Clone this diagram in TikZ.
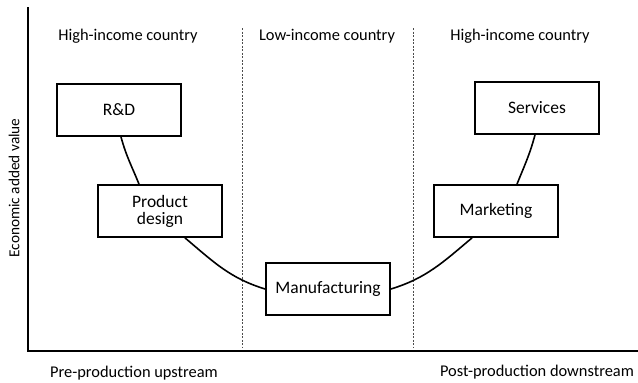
\documentclass[tikz,border=0pt]{standalone}
\usepackage{fontspec}
\setmainfont{Carlito}
\begin{document}
\begin{tikzpicture}[x=1pt,y=-1pt,
  stagebox/.style={draw,line width=1.8pt,minimum width=124pt,minimum height=52pt,inner sep=0pt,align=center,font=\fontsize{17.5}{18}\selectfont},
  lbl/.style={font=\fontsize{16.4}{18}\selectfont,inner sep=0pt},
  axis/.style={line width=2pt},
  divider/.style={dash pattern=on 2pt off 1.5pt,line width=0.7pt,gray!60!black},
  curve/.style={line width=1.6pt}]
\useasboundingbox (0,0) rectangle (638,383);
% axes
\coordinate (ytop) at (28,7);
\coordinate (orig) at (28,351);
\coordinate (xend) at (638,351);
\draw[axis] (ytop) -- (orig) -- (xend);
% dividers
\coordinate (d1t) at (242,28); \coordinate (d1b) at (242,347);
\coordinate (d2t) at (413,28); \coordinate (d2b) at (413,347);
\draw[divider] (d1t) -- (d1b);
\draw[divider] (d2t) -- (d2b);
% region labels
\node[lbl] (h1) at (128,36) {High-income country};
\node[lbl] (lo) at (327,36) {Low-income country};
\node[lbl] (h2) at (520,36) {High-income country};
% boxes
\node[stagebox] (rd) at (119,110) {R\&D};
\node[stagebox] (pd) at (160,211) {Product\\[-1pt]design};
\node[stagebox] (mf) at (328,289) {Manufacturing};
\node[stagebox] (mk) at (496,211) {Marketing};
\node[stagebox] (sv) at (537,108) {Services};
% curves
\draw[curve] ([xshift=2pt]rd.south) to[out=-75,in=112] ([xshift=-21pt]pd.north);
\draw[curve] ([xshift=25pt]pd.south) to[out=-40,in=163] (mf.west);
\draw[curve] (mf.east) to[out=17,in=-140] ([xshift=-24pt]mk.south);
\draw[curve] ([xshift=-2pt]sv.south) to[out=-105,in=68] ([xshift=21pt]mk.north);
% axis labels
\node[lbl,font=\fontsize{15.3}{17}\selectfont,rotate=90] (ylab) at (14,188) {Economic added value};
\node[lbl] (xl) at (134,373) {Pre-production upstream};
\node[lbl] (xr) at (537,372) {Post-production downstream};
\end{tikzpicture}
\end{document}
